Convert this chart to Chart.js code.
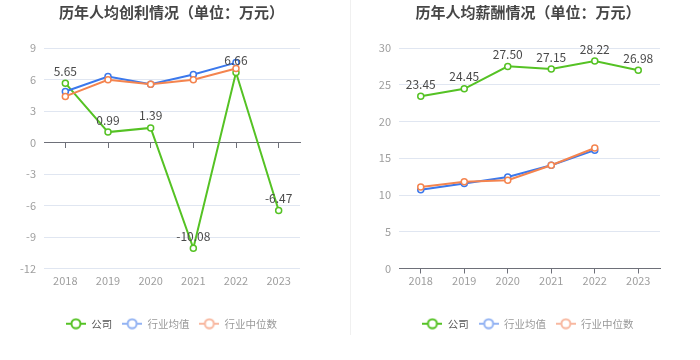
<!DOCTYPE html>
<html>
<head>
<meta charset="utf-8">
<script src="https://cdn.jsdelivr.net/npm/chart.js@4.4.1/dist/chart.umd.min.js"></script>
<style>
  html, body { margin: 0; padding: 0; background: #fff; }
  #wrap { position: relative; width: 700px; height: 360px; }
  .box { position: absolute; top: 0; height: 360px; }
  #divider { position: absolute; left: 350px; top: 0; width: 1px; height: 335px; background: #f0f0f0; }
</style>
</head>
<body>
<div id="wrap">
  <div class="box" style="left:0;width:350px"><canvas id="chartProfit" width="350" height="360"></canvas></div>
  <div id="divider"></div>
  <div class="box" style="left:351px;width:349px"><canvas id="chartSalary" width="349" height="360"></canvas></div>
</div>
<script>
// 数据
const years = ['2018', '2019', '2020', '2021', '2022', '2023'];
const seriesNames = ['公司', '行业均值', '行业中位数'];

const profitCompany = [5.65, 0.99, 1.39, -10.08, 6.66, -6.47];
const profitIndustryAvg = [4.86, 6.28, 5.55, 6.47, 7.61, null];
const profitIndustryMedian = [4.39, 5.97, 5.55, 5.97, 7.05, null];
const profitTicks = [-12, -9, -6, -3, 0, 3, 6, 9];

const salaryCompany = [23.45, 24.45, 27.50, 27.15, 28.22, 26.98];
const salaryIndustryAvg = [10.7, 11.55, 12.45, 14.05, 16.1, null];
const salaryIndustryMedian = [11.1, 11.8, 12.0, 14.05, 16.4, null];
const salaryTicks = [0, 5, 10, 15, 20, 25, 30];

const FONT = '"Noto Sans CJK SC", "Noto Sans", sans-serif';
const lineColors = ['#55c224', '#3b78ec', '#f4844f'];
const legendColors = ['#55c224', '#93b3f3', '#f8b8a0'];
const legendTextColors = ['#555555', '#999999', '#999999'];
const axisColor = '#6e7079';
const gridColor = '#e0e6f1';
const tickColor = '#9e9e9e';

function legendIcon(color) {
  const c = document.createElement('canvas');
  c.width = 20; c.height = 12;
  const g = c.getContext('2d');
  g.strokeStyle = color; g.lineWidth = 2;
  g.beginPath(); g.moveTo(0, 6); g.lineTo(20, 6); g.stroke();
  g.beginPath(); g.arc(10, 6, 4.5, 0, Math.PI * 2);
  g.fillStyle = '#fff'; g.fill(); g.stroke();
  return c;
}
const icons = legendColors.map(legendIcon);

// 公司数值标签
const valueLabels = {
  id: 'valueLabels',
  afterDatasetsDraw(chart) {
    const meta = chart.getDatasetMeta(0);
    const values = chart.data.datasets[0].data;
    const ctx = chart.ctx;
    ctx.save();
    ctx.font = '12px ' + FONT;
    ctx.fillStyle = '#4a4a4a';
    ctx.textAlign = 'center';
    ctx.textBaseline = 'middle';
    meta.data.forEach((pt, i) => {
      if (values[i] == null) return;
      ctx.fillText(values[i].toFixed(2), pt.x, pt.y - 12);
    });
    ctx.restore();
  }
};

function buildChart(id, title, series, ticks, zeroAxis, pad, yWidth, rightWidth) {
  const datasets = series.map((d, i) => ({
    label: seriesNames[i],
    data: d,
    borderColor: lineColors[i],
    backgroundColor: '#fff',
    borderWidth: 2,
    pointRadius: 3,
    pointBorderWidth: 1.5,
    pointBackgroundColor: '#fff',
    pointBorderColor: lineColors[i],
    tension: 0,
    order: 3 - i
  }));

  const scales = {
    x: {
      type: 'category',
      offset: true,
      grid: zeroAxis
        ? { display: false, drawTicks: false }
        : { display: true, drawOnChartArea: false, drawTicks: true, tickLength: 5, offset: false, color: axisColor },
      border: zeroAxis ? { display: false } : { display: true, color: axisColor },
      ticks: { color: tickColor, font: { size: 11, family: FONT }, padding: zeroAxis ? 6 : 1 },
      afterFit(s) { s.height = 40; }
    },
    y: {
      min: ticks[0],
      max: ticks[ticks.length - 1],
      ticks: { stepSize: ticks[1] - ticks[0], color: tickColor, font: { size: 11, family: FONT }, padding: 8 },
      grid: { color: c => (c.tick && c.tick.value === 0 ? axisColor : gridColor), drawTicks: false },
      border: { display: false },
      afterFit(s) { s.width = yWidth; }
    },
    yR: {
      position: 'right',
      grid: { display: false },
      ticks: { display: false },
      border: { display: false },
      afterFit(s) { s.width = rightWidth; }
    }
  };
  if (zeroAxis) {
    scales.x2 = {
      type: 'category',
      position: { y: 0 },
      offset: true,
      grid: { display: true, drawOnChartArea: false, drawTicks: true, tickLength: 5, offset: false, color: axisColor },
      border: { display: true, color: axisColor },
      ticks: { display: false }
    };
  }

  return new Chart(document.getElementById(id), {
    type: 'line',
    data: { labels: years, datasets },
    options: {
      responsive: false,
      animation: false,
      events: [],
      layout: { padding: pad },
      scales,
      plugins: {
        title: {
          display: true,
          text: title,
          color: '#464646',
          font: { size: 15, weight: 'bold', family: FONT },
          padding: { top: 3, bottom: 27 }
        },
        legend: {
          position: 'bottom',
          labels: {
            usePointStyle: true,
            pointStyleWidth: 20,
            padding: 10,
            font: { size: 10.5, family: FONT },
            generateLabels: () => seriesNames.map((name, i) => ({
              text: name,
              fillStyle: legendColors[i],
              strokeStyle: legendColors[i],
              pointStyle: icons[i],
              fontColor: legendTextColors[i],
              lineWidth: 0,
              hidden: false,
              datasetIndex: i
            }))
          }
        },
        tooltip: { enabled: false }
      }
    },
    plugins: [valueLabels]
  });
}

buildChart('chartProfit', '历年人均创利情况（单位：万元）',
  [profitCompany, profitIndustryAvg, profitIndustryMedian], profitTicks, true,
  { left: 0, right: 7, top: 0, bottom: 21 }, 44, 43);

buildChart('chartSalary', '历年人均薪酬情况（单位：万元）',
  [salaryCompany, salaryIndustryAvg, salaryIndustryMedian], salaryTicks, false,
  { left: 5, right: 0, top: 0, bottom: 21 }, 43, 40);
</script>
</body>
</html>
